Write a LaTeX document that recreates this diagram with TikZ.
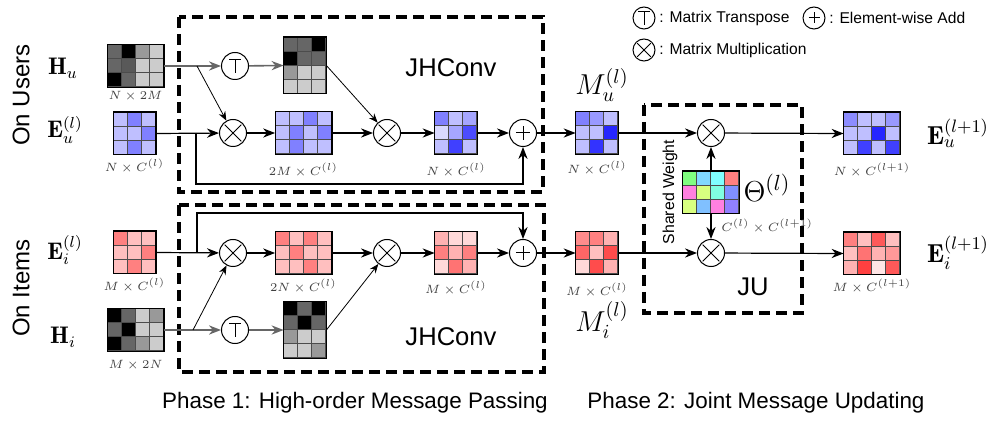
\documentclass[tikz,border=0pt]{standalone}
\usepackage{fontspec}
\setsansfont{Liberation Sans}
\usetikzlibrary{positioning, calc, arrows.meta}

\definecolor{tgreen}{HTML}{80FF80}
\definecolor{tsky}{HTML}{80D8FF}
\definecolor{tcyan}{HTML}{80FFFF}
\definecolor{tred}{HTML}{FF8080}
\definecolor{tpink}{HTML}{FF80E0}
\definecolor{tlime}{HTML}{D8FF80}
\definecolor{taqua}{HTML}{80FFE0}
\definecolor{tblue}{HTML}{8090FF}
\definecolor{tazure}{HTML}{80C0FF}
\definecolor{tviolet}{HTML}{9080FF}

% grid matrix: name, centre, columns, rows, cell colours row by row
\newcommand{\gridmat}[5]{%
  \node[inner sep=0pt, minimum width=#3*7pt, minimum height=#4*7pt] (#1) at (#2) {};
  \foreach \cc [count=\k from 0] in {#5} {
    \pgfmathtruncatemacro{\ci}{mod(\k,#3)}
    \pgfmathtruncatemacro{\ri}{int(\k/#3)}
    \filldraw[fill=\cc, draw=black!70, line width=0.4pt]
      ($(#1.north west)+(\ci*14,\ri*14)$) rectangle ++(14,14);
  }
  \draw[line width=0.6pt] (#1.north west) rectangle (#1.south east);
}

\begin{document}
\begin{tikzpicture}[
    x=0.5pt, y=-0.5pt,
    op/.style={draw, circle, minimum size=13.5pt, inner sep=0pt, line width=0.5pt, fill=white},
    mul/.style={op, path picture={
      \draw[line width=0.5pt]
        ($(path picture bounding box.center)!0.62!(path picture bounding box.north west)$) --
        ($(path picture bounding box.center)!0.62!(path picture bounding box.south east)$)
        ($(path picture bounding box.center)!0.62!(path picture bounding box.north east)$) --
        ($(path picture bounding box.center)!0.62!(path picture bounding box.south west)$);}},
    add/.style={op, path picture={
      \draw[line width=0.5pt]
        ($(path picture bounding box.center)!0.5!(path picture bounding box.west)$) --
        ($(path picture bounding box.center)!0.5!(path picture bounding box.east)$)
        ($(path picture bounding box.center)!0.5!(path picture bounding box.north)$) --
        ($(path picture bounding box.center)!0.5!(path picture bounding box.south)$);}},
    trn/.style={op, path picture={
      \draw[line width=0.5pt]
        ($(path picture bounding box.center)+(-0.43*6.75pt,0.47*6.75pt)$) --
        ($(path picture bounding box.center)+(0.43*6.75pt,0.47*6.75pt)$)
        ($(path picture bounding box.center)+(0,0.47*6.75pt)$) --
        ($(path picture bounding box.center)+(0,-0.52*6.75pt)$);}},
    small/.style={minimum size=11pt},
    arr/.style={-{Stealth[length=6pt,width=4.6pt]}, line width=0.6pt},
    thin arr/.style={-{Stealth[length=4.6pt,width=3.6pt]}, line width=0.4pt},
    gray arr/.style={arr, draw=black!60, line width=0.8pt},
    dbox/.style={draw, line width=1.7pt, dash pattern=on 5.5pt off 3pt},
    dim/.style={inner sep=1pt, font=\fontsize{5.9}{7}\selectfont, text=black!75},
    sym/.style={inner sep=0pt, font=\fontsize{12}{14}\selectfont},
    big/.style={inner sep=0pt, font=\fontsize{14}{16}\selectfont},
    txt/.style={inner sep=0pt, font=\sffamily\fontsize{12}{14}\selectfont},
    leg/.style={inner sep=1pt, anchor=west, font=\sffamily\fontsize{7.8}{9}\selectfont}
  ]
  \useasboundingbox (0,0) rectangle (996,422);

  % dashed modules
  \draw[dbox] (179,17) rectangle (543,192);
  \draw[dbox] (179,205) rectangle (544,372);
  \draw[dbox] (644,105) rectangle (802,313);
  \node[txt, font=\sffamily\fontsize{12.8}{15}\selectfont] (jhu) at (451,68) {JHConv};
  \node[txt, font=\sffamily\fontsize{12.8}{15}\selectfont] (jhi) at (451,337) {JHConv};
  \node[txt, font=\sffamily\fontsize{12.8}{15}\selectfont] (jul) at (753,287) {JU};

  % row labels
  \node[txt, rotate=90] (users) at (21,95) {On Users};
  \node[txt, rotate=90] (items) at (21,288) {On Items};
  \node[sym] (lHu) at (63,68) {$\mathbf{H}_u$};
  \node[sym] (lEu) at (65,130) {$\mathbf{E}_u^{(l)}$};
  \node[sym] (lEi) at (65,250) {$\mathbf{E}_i^{(l)}$};
  \node[sym] (lHi) at (63,337) {$\mathbf{H}_i$};

  % input matrices
  \gridmat{Hu}{135.5,66}{4}{3}{black!60,black,black!40,black!20,black!60,black!65,black!20,black!20,black,black!60,black!20,black!20}
  \gridmat{Eu}{134.5,133.5}{3}{3}{blue!25,blue!50,blue!25,blue!25,blue!25,blue!50,blue!25,blue!50,blue!25}
  \gridmat{Ei}{134.5,252.5}{3}{3}{red!50,red!25,red!25,red!25,red!25,red!50,red!25,red!50,red!25}
  \gridmat{Hi}{135.5,330}{4}{3}{black,black!60,black!20,black!40,black!60,black,black!20,black!20,black,black!60,black!40,black!20}
  \node[dim, below=1pt of Hu] (dHu) {$N\times 2M$};
  \node[dim, below=1pt of Eu] (dEu) {$N\times C^{(l)}$};
  \node[dim, below=1pt of Ei] (dEi) {$M\times C^{(l)}$};
  \node[dim, below=3pt of Hi] (dHi) {$M\times 2N$};

  % users branch
  \node[trn] (tu) at (235,66) {};
  \gridmat{HuT}{305,65.5}{3}{4}{black!60,black!60,black,black,black!60,black!60,black!40,black!20,black!20,black!20,black!20,black!20}
  \node[mul] (mu1) at (233,133) {};
  \gridmat{Ua}{303.5,133}{4}{3}{blue!25,blue!25,blue!50,blue!25,blue!25,blue!50,blue!25,blue!50,blue!25,blue!50,blue!25,blue!25}
  \node[dim, below=3pt of Ua] (dUa) {$2M\times C^{(l)}$};
  \node[mul] (mu2) at (387,133) {};
  \gridmat{Ub}{456,133}{3}{3}{blue!50,blue!25,blue!35,blue!15,blue!35,blue!70,blue!25,blue!75,blue!25}
  \node[dim, below=3pt of Ub] (dUb) {$N\times C^{(l)}$};
  \node[add] (pu) at (523,133) {};

  % items branch
  \node[mul] (mi1) at (233,253) {};
  \gridmat{Ia}{303.5,253}{4}{3}{red!50,red!25,red!50,red!25,red!25,red!50,red!25,red!25,red!25,red!25,red!50,red!25}
  \node[dim, below=1pt of Ia] (dIa) {$2N\times C^{(l)}$};
  \node[mul] (mi2) at (387,253) {};
  \gridmat{Ib}{456,253}{3}{3}{red!30,red!15,red!15,red!50,red!30,red!50,red!15,red!55,red!30}
  \node[dim, below=2pt of Ib] (dIb) {$M\times C^{(l)}$};
  \node[add] (pi) at (523,253) {};
  \node[trn] (ti) at (235,330) {};
  \gridmat{HiT}{305,330}{3}{4}{black,black!60,black,black!60,black,black!60,black!40,black!20,black!20,black!20,black!20,black!40}

  % messages
  \gridmat{Mu}{597,133}{3}{3}{blue!50,blue!40,blue!25,blue!25,blue!25,blue!85,blue!25,blue!80,blue!25}
  \node[dim, below=2pt of Mu] (dMu) {$N\times C^{(l)}$};
  \node[big] (lMu) at (602,85) {$M_u^{(l)}$};
  \gridmat{Mi}{597,253}{3}{3}{red!45,red!50,red!30,red!60,red!25,red!70,red!15,red!70,red!30}
  \node[dim, below=3pt of Mi] (dMi) {$M\times C^{(l)}$};
  \node[big] (lMi) at (602,320) {$M_i^{(l)}$};

  % joint update
  \node[mul] (ju) at (711,133) {};
  \node[mul] (ji) at (711,253) {};
  \gridmat{Th}{711,192.5}{4}{3}{tgreen,tsky,tcyan,tred,tpink,tlime,taqua,tblue,tlime,tazure,tpink,tviolet}
  \node[inner sep=0pt, font=\fontsize{15}{17}\selectfont] (lTh) at (767,188) {$\Theta^{(l)}$};
  \node[dim, anchor=west] (dTh) at (719,226) {$C^{(l)}\times C^{(l+1)}$};
  \node[inner sep=0pt, rotate=90, font=\sffamily\fontsize{7.9}{9}\selectfont] (shw) at (670,192) {Shared Weight};

  % outputs
  \gridmat{Eun}{872,133.5}{4}{3}{blue!45,blue!25,blue!25,blue!40,blue!25,blue!25,blue!85,blue!25,blue!25,blue!75,blue!25,blue!75}
  \node[dim, below=3pt of Eun] (dEun) {$N\times C^{(l+1)}$};
  \gridmat{Ein}{872,253.5}{4}{3}{red!50,red!25,red!65,red!25,red!25,red!55,red!30,red!40,red!30,red!75,red!10,red!65}
  \node[dim, below=1pt of Ein] (dEin) {$M\times C^{(l+1)}$};
  \node[inner sep=0pt, font=\fontsize{13}{15}\selectfont] (lEun) at (958,133) {$\mathbf{E}_u^{(l+1)}$};
  \node[inner sep=0pt, font=\fontsize{13}{15}\selectfont] (lEin) at (958,253) {$\mathbf{E}_i^{(l+1)}$};

  % connectors, users
  \coordinate (bu) at (197,66);
  \coordinate (su) at (196,133);
  \draw[gray arr] (Hu.east) -- (tu);
  \draw[gray arr] (tu) -- (HuT.west);
  \draw[thin arr] (bu) -- (mu1);
  \draw[thin arr] (HuT.east) -- (mu2);
  \draw[arr] (Eu.east) -- (mu1);
  \draw[arr] (mu1) -- (Ua.west);
  \draw[arr] (Ua.east) -- (mu2);
  \draw[arr] (mu2) -- (Ub.west);
  \draw[arr] (Ub.east) -- (pu);
  \draw[arr] (su) |- (523,184) -- (pu.south);
  \draw[arr] (pu) -- (Mu.west);
  \draw[arr] (Mu.east) -- (ju);
  \draw[arr] (ju) -- (Eun.west);

  % connectors, items
  \coordinate (bi) at (193,330);
  \coordinate (si) at (197,253);
  \draw[gray arr] (Hi.east) -- (ti);
  \draw[gray arr] (ti) -- (HiT.west);
  \draw[thin arr] (bi) -- (mi1);
  \draw[thin arr] (HiT.east) -- (mi2);
  \draw[arr] (Ei.east) -- (mi1);
  \draw[arr] (mi1) -- (Ia.west);
  \draw[arr] (Ia.east) -- (mi2);
  \draw[arr] (mi2) -- (Ib.west);
  \draw[arr] (Ib.east) -- (pi);
  \draw[arr] (si) |- (523,213) -- (pi.north);
  \draw[arr] (pi) -- (Mi.west);
  \draw[arr] (Mi.east) -- (ji);
  \draw[arr] (ji) -- (Ein.west);

  % shared weight
  \draw[arr] (Th.north) -- (ju);
  \draw[arr] (Th.south) -- (ji);

  % legend
  \node[trn, small] (gT) at (644,18) {};
  \node[leg] (gTt) at (657,18) {: Matrix Transpose};
  \node[add, small] (gA) at (814,18) {};
  \node[leg] (gAt) at (827,18) {: Element-wise Add};
  \node[mul, small] (gM) at (644,50) {};
  \node[leg] (gMt) at (657,50) {: Matrix Multiplication};

  % phases
  \node[txt, font=\sffamily\fontsize{11.2}{13}\selectfont] (ph1) at (355,403) {Phase 1: High-order Message Passing};
  \node[txt, font=\sffamily\fontsize{11.2}{13}\selectfont] (ph2) at (756,403) {Phase 2: Joint Message Updating};
\end{tikzpicture}
\end{document}
